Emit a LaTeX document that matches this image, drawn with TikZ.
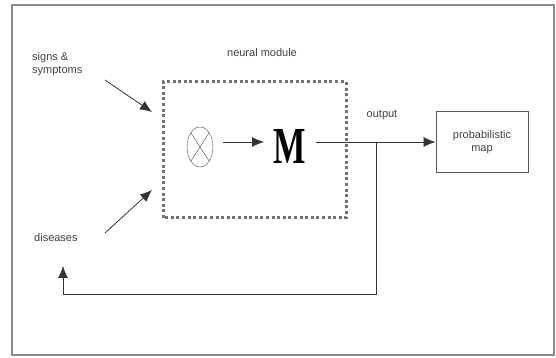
\documentclass[tikz,border=0pt]{standalone}
\usepackage{fontspec}
\setmainfont{Liberation Sans}
\newfontfamily\mfont{Liberation Serif}
\usetikzlibrary{arrows.meta,shapes.geometric}
\tikzset{
  lbl/.style={text=black!75, font=\fontsize{11}{13}\selectfont, align=center, inner sep=1pt},
  conn/.style={black!80, line width=0.8pt, -{Latex[length=12pt,width=10pt]}},
}
\begin{document}
\begin{tikzpicture}[x=1pt, y=1pt]
    \useasboundingbox (0,0) rectangle (556,358);
    % frame
    \draw[black!45, line width=1.6pt] (12,3) rectangle (554,353);

    % inputs
    \node[lbl, align=left, anchor=west] (signs) at (31,294) {signs \&\\symptoms};
    \node[lbl, anchor=west] (diseases) at (33,120) {diseases};

    % neural module
    \draw[black!55, line width=3pt, dash pattern=on 3pt off 2.6pt]
        (163,140) rectangle (346,276);
    \node[lbl] (module) at (262,305) {neural module};
    \node[draw=black!70, ellipse, minimum width=26pt, minimum height=40pt, inner sep=0pt] (mult) at (200,211) {};
    \draw[black!70] (mult.north west) -- (mult.south east);
    \draw[black!70] (mult.north east) -- (mult.south west);
    \node[inner sep=0pt] (M) at (290,212) {\mfont\bfseries\fontsize{52}{52}\selectfont\scalebox{0.66}[1]{M}};

    \coordinate (in1) at (152,246);
    \coordinate (in2) at (152,168);
    \draw[conn] (105,278) -- (in1);
    \draw[conn] (105,125) -- (in2);
    \draw[conn] (mult.east) ++(10,5) -- (264,216);

    % output
    \node[draw=black!65, line width=1pt, lbl, minimum width=92pt, minimum height=61pt] (map) at (482,215.5) {probabilistic\\map};
    \node[lbl] (out) at (382,243) {output};
    \coordinate (split) at (376,216);
    \coordinate (back) at (63,92);
    \draw[conn] (316,216) -- (map.west |- split);
    \draw[conn] (split) -- (376,64) -| (back);
\end{tikzpicture}
\end{document}
